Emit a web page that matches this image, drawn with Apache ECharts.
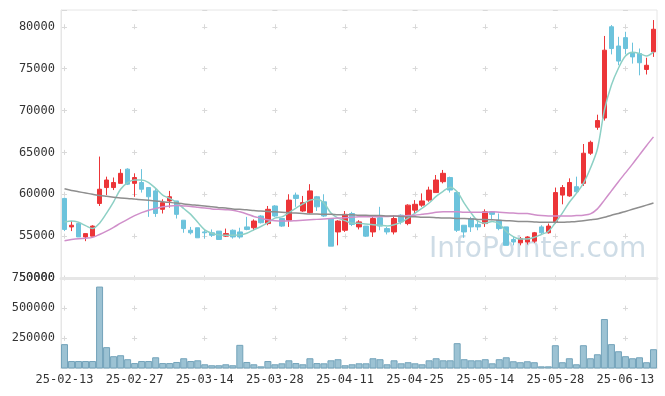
<!DOCTYPE html>
<html><head><meta charset="utf-8">
<script src="https://cdn.jsdelivr.net/npm/echarts@6/dist/echarts.min.js"></script>
<style>html,body{margin:0;padding:0;background:#fff}#c{width:665px;height:396px}</style>
</head><body><div id="c"></div>
<script>
const dates = ['25-02-13','25-02-14','25-02-17','25-02-18','25-02-19','25-02-20','25-02-21','25-02-24','25-02-25','25-02-26',
'25-02-27','25-02-28','25-03-04','25-03-05','25-03-06','25-03-07','25-03-10','25-03-11','25-03-12','25-03-13',
'25-03-14','25-03-17','25-03-18','25-03-19','25-03-20','25-03-21','25-03-24','25-03-25','25-03-26','25-03-27',
'25-03-28','25-03-31','25-04-01','25-04-02','25-04-03','25-04-04','25-04-07','25-04-08','25-04-09','25-04-10',
'25-04-11','25-04-14','25-04-15','25-04-16','25-04-17','25-04-18','25-04-21','25-04-22','25-04-23','25-04-24',
'25-04-25','25-04-28','25-04-29','25-04-30','25-05-02','25-05-07','25-05-08','25-05-09','25-05-12','25-05-13',
'25-05-14','25-05-15','25-05-16','25-05-19','25-05-20','25-05-21','25-05-22','25-05-23','25-05-26','25-05-27',
'25-05-28','25-05-29','25-05-30','25-06-02','25-06-04','25-06-05','25-06-09','25-06-10','25-06-11','25-06-12',
'25-06-13','25-06-16','25-06-17','25-06-18','25-06-19'];

const opens = [59500,56100,56500,54900,55000,58900,60800,60800,61300,63000,
61300,61400,60800,60400,58200,59200,59200,56900,55700,56000,
55500,55400,55600,55000,55700,55500,56100,56000,57400,56500,
58600,57100,56900,59900,58000,57800,59700,59100,57100,55500,
55700,57700,56100,56200,55500,57200,55900,55500,57500,56500,
58100,58700,59300,60200,61500,62000,60200,56300,57100,56400,
56500,57900,56900,56100,54600,54200,54300,54400,56100,55400,
56700,59900,59800,60900,61300,64900,68000,69100,80000,77700,
78700,76900,76800,74900,77000];
const closes = [55800,56300,54900,55300,56200,60600,61700,61400,62500,61200,
62000,60600,59700,57700,59000,59700,57600,55900,55400,54800,
55400,55100,54600,55300,54900,54900,55800,56800,56600,58200,
57400,56200,59300,59500,59000,60400,58500,57400,53800,56800,
57600,56400,56700,55000,57100,56200,55500,57100,56700,58700,
58800,59200,60500,61700,62500,60500,55700,55500,56100,56100,
57900,57600,55900,53900,54300,54700,54900,55400,55400,56200,
60200,60800,61400,60300,64900,66200,68800,77200,77400,75900,
77400,76400,75700,75400,79700];
const lows = [55600,55600,54900,54400,55000,58600,59900,60500,61300,61100,
59700,60200,57300,57300,57700,58400,57100,55400,55200,54800,
54700,54900,54600,54900,54700,54700,55700,55700,56500,56300,
57300,56100,56100,58500,57900,57700,58000,57300,53800,53900,
55500,56200,55800,54900,54900,55700,55200,55200,56400,56300,
57700,58500,59100,60200,61300,60200,55500,54800,55500,55700,
56100,56900,55700,53900,53900,53900,54000,54200,55200,55300,
56500,58800,59700,60100,61000,64700,67700,68800,76700,75400,
76700,75600,74200,74300,76400];
const highs = [59600,56800,56500,55300,56300,64500,62100,62000,63000,63100,
62500,63000,60800,60700,59400,60400,59200,56900,56100,56000,
55800,55800,55600,55900,55800,56000,57300,57000,57500,58600,
58700,57100,60000,60200,59800,61200,59800,60000,57100,56900,
58000,57900,56900,56200,57500,58500,56100,57500,57600,58800,
59300,60100,60900,62300,62900,62100,60300,56300,57300,56900,
58200,58000,57700,56100,54900,54900,55000,55500,56300,56500,
60800,61100,61900,62100,66000,66400,69500,78900,80200,78800,
79400,78100,77400,76300,80800];
const volumes = [202000,62000,62000,62000,62000,679000,177000,102000,110000,77000,
45000,62000,62000,93000,45000,45000,54000,85000,62000,68000,
35000,27000,27000,35000,27000,196000,54000,35000,18000,62000,
35000,43000,68000,45000,35000,85000,45000,43000,68000,77000,
27000,35000,43000,43000,85000,77000,35000,68000,43000,52000,
43000,35000,68000,85000,68000,68000,210000,77000,68000,68000,
77000,43000,77000,93000,60000,52000,60000,52000,18000,18000,
193000,52000,85000,35000,193000,85000,118000,410000,202000,143000,
102000,85000,93000,52000,160000];
const ma5 = [56700,56800,56650,56250,55900,56550,57750,59100,60600,61400,
61700,61700,61400,60700,59900,59500,59000,58300,57600,56650,
55750,55350,55150,55100,55100,55150,55350,55750,56150,56600,
57150,57300,57800,58350,58850,59300,59400,58950,57750,57150,
56850,56550,56550,56450,56350,56300,56200,56350,56650,57150,
57750,58350,58950,59750,60350,60850,60300,58950,57750,56750,
56550,56750,56450,55550,54950,54650,54650,54850,55200,55550,
56600,57750,59050,60100,61300,63100,65400,70050,73050,75050,
76500,76950,76800,76500,77000];
const ma20 = [54450,54600,54700,54750,54850,55200,55600,56050,56550,57000,
57450,57800,58100,58300,58500,58600,58650,58600,58550,58450,
58350,58250,58200,58150,58100,57900,57650,57350,57150,56950,
56850,56800,56800,56850,56900,56950,57000,57050,57100,57150,
57200,57250,57300,57300,57300,57350,57350,57400,57400,57450,
57500,57600,57700,57850,57900,57900,57900,57850,57850,57850,
57850,57900,57850,57800,57750,57700,57700,57550,57450,57400,
57400,57400,57400,57450,57500,57650,58250,59300,60400,61500,
62550,63600,64700,65800,66850];
const ma60 = [60650,60450,60300,60150,60000,59850,59750,59650,59550,59500,
59420,59350,59280,59200,59100,59030,58950,58850,58750,58680,
58600,58500,58400,58350,58250,58200,58150,58050,58000,57950,
57900,57850,57800,57750,57700,57650,57650,57600,57600,57550,
57550,57550,57500,57500,57450,57450,57400,57400,57350,57300,
57300,57250,57250,57200,57150,57150,57100,57100,57050,57000,
57000,56950,56900,56850,56800,56750,56750,56700,56650,56650,
56650,56650,56700,56750,56850,56950,57050,57250,57500,57700,
57950,58200,58450,58700,58950];

const labelFont = 'DejaVu Sans Mono';
const candles = dates.map((d, i) => [opens[i], closes[i], lows[i], highs[i]]);
const plus = '#d9d9d9';

const chart = echarts.init(document.getElementById('c'), null, {renderer: 'canvas'});
chart.setOption({
  animation: false,
  backgroundColor: '#fff',
  graphic: [{
    type: 'text', left: 429, top: 236, z: -10, silent: true,
    style: {text: 'InfoPointer.com', font: '28px "DejaVu Sans"', fill: 'rgba(190,208,222,0.75)'}
  }],
  grid: [
    {left: 61, right: 8, top: 10, height: 268, show: true, borderColor: '#e6e6e6', borderWidth: 1, backgroundColor: 'transparent'},
    {left: 61, right: 8, top: 278, height: 90.5, show: true, borderColor: '#e6e6e6', borderWidth: 1, backgroundColor: 'transparent'}
  ],
  xAxis: [
    {type: 'category', data: dates, gridIndex: 0, boundaryGap: true,
     axisLabel: {show: false}, axisTick: {show: false},
     axisLine: {lineStyle: {color: '#e6e6e6', width: 3}},
     splitLine: {show: true, interval: 9, alignWithLabel: true,
       lineStyle: {color: plus, width: 1, type: [5, 36.875], dashOffset: 27.625}}},
    {type: 'category', data: dates, gridIndex: 1, boundaryGap: true,
     axisLabel: {interval: 9, color: '#333', fontSize: 12, fontFamily: labelFont, margin: 5},
     axisTick: {show: false},
     axisLine: {lineStyle: {color: '#e6e6e6'}},
     splitLine: {show: true, interval: 9, alignWithLabel: true,
       lineStyle: {color: plus, width: 1, type: [5, 25.17], dashOffset: 2.5}}}
  ],
  yAxis: [
    {type: 'value', gridIndex: 0, min: 50000, max: 82000, interval: 5000,
     axisLine: {show: true, lineStyle: {color: '#e6e6e6'}}, axisTick: {show: false},
     axisLabel: {color: '#333', fontSize: 12, fontFamily: labelFont, margin: 6,
       formatter: v => (v % 5000 === 0 ? String(v) : '')},
     splitLine: {show: true, lineStyle: {color: plus, width: 1, type: [5, 65.12], dashOffset: 69.12}}},
    {type: 'value', gridIndex: 1, min: 0, max: 750000, interval: 250000,
     axisLine: {show: true, lineStyle: {color: '#e6e6e6'}}, axisTick: {show: false},
     axisLabel: {color: '#333', fontSize: 12, fontFamily: labelFont, margin: 6,
       formatter: v => (v === 0 ? '' : String(v))},
     splitLine: {show: true, lineStyle: {color: plus, width: 1, type: [5, 65.12], dashOffset: 69.12}}}
  ],
  series: [
    {type: 'candlestick', xAxisIndex: 0, yAxisIndex: 0, data: candles, barWidth: 5,
     itemStyle: {color: '#ec3538', color0: '#6cc3dc', borderColor: '#ec3538', borderColor0: '#6cc3dc', borderWidth: 1}},
    {type: 'line', xAxisIndex: 0, yAxisIndex: 0, data: ma5, smooth: 0.3, symbol: 'none',
     lineStyle: {color: '#8dd0c5', width: 1.5}},
    {type: 'line', xAxisIndex: 0, yAxisIndex: 0, data: ma20, smooth: 0.3, symbol: 'none',
     lineStyle: {color: '#d08fca', width: 1.5}},
    {type: 'line', xAxisIndex: 0, yAxisIndex: 0, data: ma60, smooth: 0.3, symbol: 'none',
     lineStyle: {color: '#8e8e8e', width: 1.5}},
    {type: 'bar', xAxisIndex: 1, yAxisIndex: 1, data: volumes, barWidth: 7,
     itemStyle: {color: '#9cc2d3', borderColor: '#73a3ba', borderWidth: 1}}
  ]
});
</script></body></html>
